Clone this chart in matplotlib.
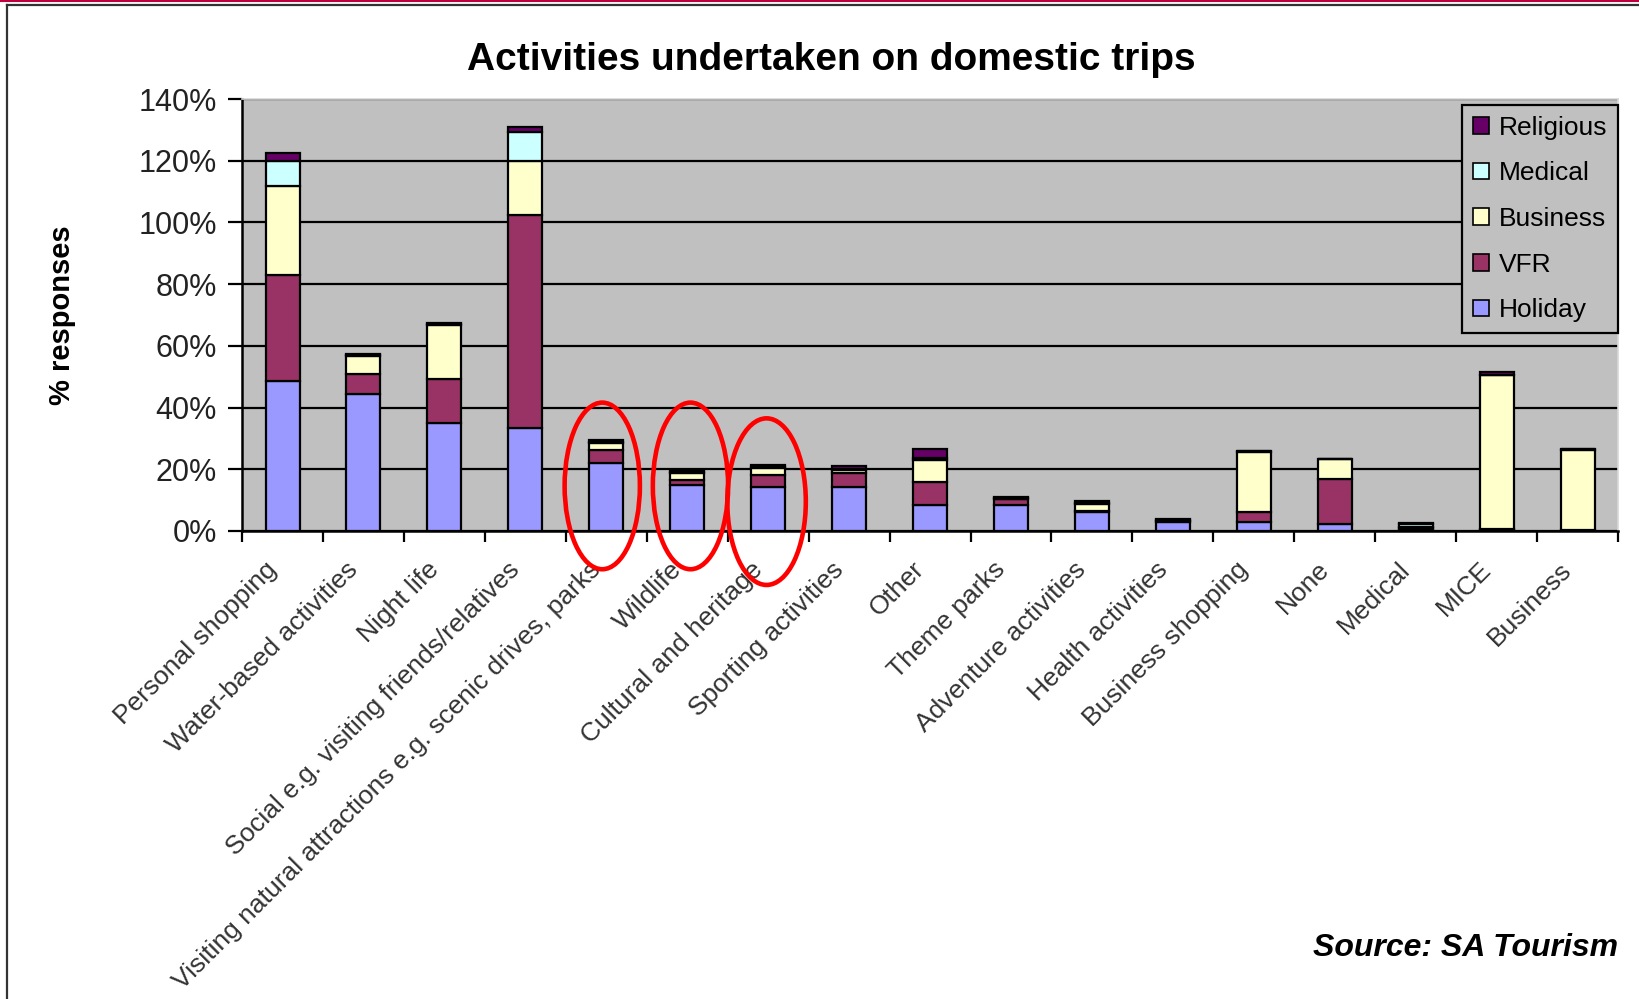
import matplotlib
matplotlib.use("Agg")
import matplotlib.pyplot as plt
from matplotlib.patches import Ellipse, Rectangle
from matplotlib.lines import Line2D
from matplotlib.ticker import FuncFormatter, FixedLocator
import numpy as np

# data (percent of responses)
categories = [
    "Personal shopping", "Water-based activities", "Night life",
    "Social e.g. visiting friends/relatives",
    "Visiting natural attractions e.g. scenic drives, parks",
    "Wildlife", "Cultural and heritage", "Sporting activities", "Other",
    "Theme parks", "Adventure activities", "Health activities",
    "Business shopping", "None", "Medical", "MICE", "Business",
]
holiday = [48.5, 44.5, 35.0, 33.4, 22.1, 15.0, 14.3, 14.1, 8.5, 8.5, 6.0, 2.9, 2.9, 2.1, 0.4, 0.2, 0.2]
vfr = [34.6, 6.4, 14.4, 69.0, 4.1, 1.6, 3.9, 4.8, 7.3, 1.7, 0.6, 0.3, 3.2, 14.6, 0.5, 0.3, 0.2]
business = [28.7, 5.7, 17.5, 17.5, 2.3, 2.3, 2.3, 0.8, 7.1, 0.2, 2.1, 0.2, 19.6, 6.5, 0.4, 50.0, 26.0]
medical = [8.0, 0.3, 0.2, 9.5, 0.4, 0.3, 0.3, 0.4, 0.6, 0.2, 0.3, 0.3, 0.1, 0.1, 1.0, 0.2, 0.1]
religious = [2.6, 0.5, 0.2, 1.6, 0.7, 0.4, 0.7, 0.8, 3.0, 0.3, 0.7, 0.2, 0.1, 0.1, 0.2, 0.7, 0.1]

series_names = ["Holiday", "VFR", "Business", "Medical", "Religious"]
series_colors = ["#9999FF", "#993366", "#FFFFCC", "#CCFFFF", "#660066"]

plt.rcParams['font.family'] = ['Liberation Sans', 'DejaVu Sans']

fig = plt.figure(figsize=(16.39, 9.99), dpi=100)
ax = fig.add_axes([0.1477, 0.4685, 0.9872 - 0.1477, 0.9009 - 0.4685])
ax.set_facecolor('#C0C0C0')

x = np.arange(len(categories))
bottom = np.zeros(len(categories))
handles = []
for name, vals, col in zip(series_names, [holiday, vfr, business, medical, religious], series_colors):
    ax.bar(x, vals, bottom=bottom, width=0.42, color=col,
           edgecolor='black', linewidth=1.6, label=name, zorder=3)
    bottom += np.array(vals)
    handles.append(Rectangle((0, 0), 1, 1, facecolor=col, edgecolor='black', linewidth=1.2))

ax.set_xlim(-0.5, len(categories) - 0.5)
ax.set_ylim(0, 140)
ax.set_yticks(np.arange(0, 141, 20))
ax.yaxis.set_major_formatter(FuncFormatter(lambda v, p: f"{v:.0f}%"))
ax.grid(axis='y', color='black', linewidth=1.6, zorder=1)
ax.set_axisbelow(True)

# labels sit a little left of the bar centre, like Excel's slanted labels
ax.set_xticks(x - 0.22)
ax.set_xticklabels(categories, rotation=45, ha='right', rotation_mode='anchor',
                   fontsize=19, color='#333333')
ax.xaxis.set_minor_locator(FixedLocator(np.arange(-0.5, len(categories), 1)))
ax.tick_params(axis='x', which='major', length=0, pad=19)
ax.tick_params(axis='x', which='minor', length=8, width=1.6, direction='out')
ax.tick_params(axis='y', length=10, width=1.6, labelsize=22, pad=8, labelcolor='#222222')

for s in ['left', 'bottom']:
    ax.spines[s].set_linewidth(1.8)
for s in ['top', 'right']:
    ax.spines[s].set_color('#D8D8D8')
    ax.spines[s].set_linewidth(1.2)

ax.set_ylabel('% responses', fontsize=21, fontweight='bold', labelpad=45)
fig.text(0.507, 0.940, 'Activities undertaken on domestic trips',
         fontsize=28, fontweight='bold', ha='center', va='center')

leg = ax.legend(handles[::-1], series_names[::-1], loc='upper right',
                bbox_to_anchor=(1.004, 0.998), fontsize=19, frameon=True,
                fancybox=False, edgecolor='black', facecolor='#C0C0C0',
                handlelength=0.6, handleheight=0.6, handletextpad=0.4,
                labelspacing=0.82, borderpad=0.4, borderaxespad=0.2)
leg.get_frame().set_linewidth(1.6)
leg.get_frame().set_alpha(1)
leg.set_zorder(5)

# red annotation ellipses from the reference
for cx, cy, w, h in [(3.95, 14.6, 0.93, 54), (5.04, 14.6, 0.93, 54), (5.98, 9.5, 0.97, 54)]:
    ax.add_patch(Ellipse((cx, cy), w, h, fill=False, edgecolor='#FF0000',
                         linewidth=3.3, zorder=6, clip_on=False))

fig.text(0.987, 0.051, 'Source: SA Tourism', fontsize=23, fontweight='bold',
         fontstyle='italic', ha='right', va='center')

# page frame lines
fig.add_artist(Line2D([0, 1], [0.999, 0.999], color='#C0003C', linewidth=1.5, transform=fig.transFigure))
fig.add_artist(Line2D([0.0043, 1], [0.995, 0.995], color='#333333', linewidth=1.6, transform=fig.transFigure))
fig.add_artist(Line2D([0.0043, 0.0043], [0, 0.995], color='#333333', linewidth=1.6, transform=fig.transFigure))

fig.savefig('out.png', dpi=100)
